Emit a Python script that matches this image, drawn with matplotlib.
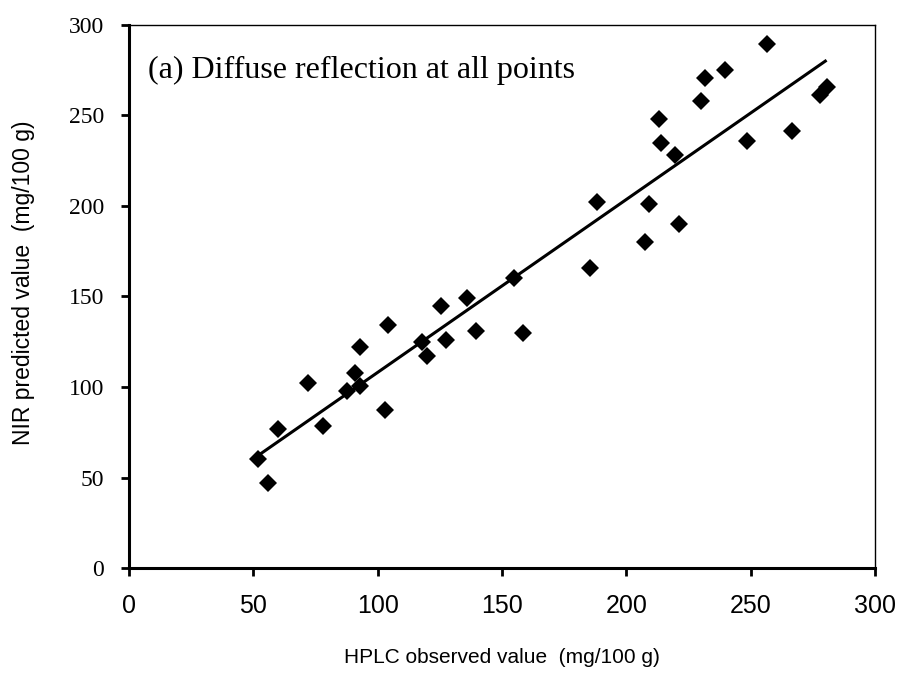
import numpy as np
import matplotlib.pyplot as plt

# HPLC observed vs NIR predicted (mg/100 g)
hplc = np.array([52, 56, 60, 72, 78, 87.5, 91, 93, 93, 104, 103, 118, 120,
                 125.5, 127.5, 136, 139.5, 155, 158.5, 185.5, 188, 207.5,
                 209, 213, 214, 219.5, 221, 230, 231.5, 239.5, 248.5, 256.5,
                 266.5, 278, 280.5])
nir = np.array([60, 47, 77, 102, 78.5, 98, 107.5, 122, 100.5, 134, 87.5,
                125, 117, 145, 126, 149, 131, 160, 130, 166, 202, 180, 201,
                248, 235, 228, 190, 258, 270.5, 275, 236, 289.5, 241.5, 261.5,
                265.5])

xticks = [0, 50, 100, 150, 200, 250, 300]
yticks = [0, 50, 100, 150, 200, 250, 300]

slope, intercept = np.polyfit(hplc, nir, 1)
xfit = np.array([hplc.min(), hplc.max()])
yfit = slope * xfit + intercept

fig = plt.figure(figsize=(9.04, 6.75), dpi=100)
ax = fig.add_axes([0.1427, 0.1585, 0.968 - 0.1427, 0.963 - 0.1585])

ax.plot(hplc, nir, 'kD', markersize=9.5, markeredgewidth=0)
ax.plot(xfit, yfit, 'k-', linewidth=2.2, solid_capstyle='butt')

ax.set_xlim(0, 300)
ax.set_ylim(0, 300)
ax.set_xticks(xticks)
ax.set_yticks(yticks)

for side in ['left', 'bottom']:
    ax.spines[side].set_linewidth(2.2)
for side in ['top', 'right']:
    ax.spines[side].set_linewidth(1.0)

ax.tick_params(axis='x', direction='out', length=6, width=2, pad=13,
               labelsize=18)
ax.tick_params(axis='y', direction='out', length=6, width=2, pad=12,
               labelsize=17)
for lab in ax.get_xticklabels():
    lab.set_family('Liberation Sans')
for lab in ax.get_yticklabels():
    lab.set_family('Liberation Serif')

ax.set_xlabel('HPLC observed value  (mg/100 g)', fontsize=15,
              family='Liberation Sans')
ax.set_ylabel('NIR predicted value  (mg/100 g)', fontsize=16.5,
              family='Liberation Sans')
ax.xaxis.set_label_coords(0.5, -0.148)
ax.yaxis.set_label_coords(-0.126, 0.525)

ax.text(7.5, 275, '(a) Diffuse reflection at all points', fontsize=23,
        family='Liberation Serif', va='center', ha='left')

fig.savefig('out.png', dpi=100)
